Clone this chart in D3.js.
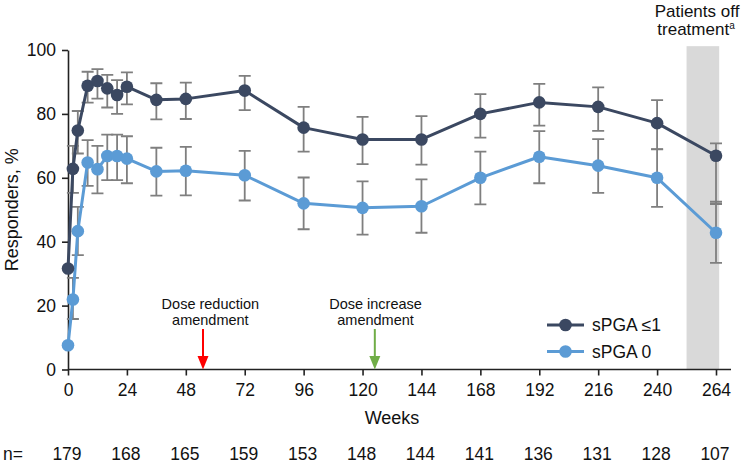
<!DOCTYPE html>
<html><head><meta charset="utf-8">
<script src="https://cdn.jsdelivr.net/npm/d3@7/dist/d3.min.js"></script>
<style>body{margin:0;background:#fff}svg{display:block;font-family:"Liberation Sans",Arial,sans-serif}</style>
</head><body><svg id="c" width="745" height="466"></svg>
<script>
const weeks = [0,2,4,8,12,16,20,24,36,48,72,96,120,144,168,192,216,240,264];
const spga1 = [31.6,62.8,74.8,88.8,90.3,88,85.9,88.5,84.4,84.7,87.3,75.7,72,72,80,83.6,82.2,77.1,66.9];
const spga1Lo = [null,55.3,67.6,83.5,84.8,82,80,83,78.3,78.4,81.2,68.2,64.3,64.1,72.6,76.3,74.7,69,51.8];
const spga1Hi = [null,70,80.9,93.2,94,92.2,90.6,93,89.6,89.8,91.9,82.2,79.1,79.3,86.2,89.4,88.3,84.3,70.8];
const spga0 = [7.6,21.9,43.3,64.8,62.7,66.8,66.8,66,62,62.2,60.8,52,50.6,51.1,60,66.6,63.8,60,42.8];
const spga0Lo = [null,15.8,35.8,57.5,55.1,59.3,59.3,58.3,54.4,54.5,52.9,43.9,42.2,42.8,51.7,58.3,55.3,50.9,33.4];
const spga0Hi = [null,28.7,50.9,71.8,70,73.5,73.5,73,69.4,69.7,68.4,60.1,58.9,59.5,68.2,74.6,72.1,68.9,52.5];
const xTicks = [0,24,48,72,96,120,144,168,192,216,240,264];
const yTicks = [0,20,40,60,80,100];
const nAtRisk = [179,168,165,159,153,148,144,141,136,131,128,107];
const seriesNames = ["sPGA \u22641","sPGA 0"];
const offBand = [252,265.3];
const doseReductionWeek = 55, doseIncreaseWeek = 125;

const svg = d3.select("#c");
const x = d3.scaleLinear().domain([0,264]).range([68,716]);
const y = d3.scaleLinear().domain([0,100]).range([369.5,50]);
const dark = "#3b4861", light = "#5b9bd5", ebc = "#7f7f7f";

// off-treatment band
svg.append("rect").attr("x", x(offBand[0])).attr("width", x(offBand[1]) - x(offBand[0]))
  .attr("y", y(101.2)).attr("height", y(0) - y(101.2)).attr("fill", "#d9d9d9");

// axes
const xAxis = svg.append("g").attr("transform", `translate(0,${y(0)})`)
  .call(d3.axisBottom(x).tickValues(xTicks).tickSize(6).tickPadding(8).tickSizeOuter(0));
xAxis.select(".domain").attr("d", `M${x(0)},0H731`);
const yAxis = svg.append("g").attr("transform", `translate(${x(0)},0)`)
  .call(d3.axisLeft(y).tickValues(yTicks).tickSize(6).tickPadding(6).tickSizeOuter(0));
[xAxis, yAxis].forEach(g => {
  g.selectAll("text").attr("font-size", 17.5).attr("fill", "#111").attr("font-family", "Liberation Sans, Arial, sans-serif");
  g.selectAll("line,.domain").attr("stroke", "#222").attr("stroke-width", 1.6);
});

svg.append("text").attr("x", x(132)).attr("y", 424).attr("text-anchor", "middle")
  .attr("font-size", 18).attr("fill", "#111").text("Weeks");
svg.append("text").attr("transform", `translate(18,${y(50)}) rotate(-90)`).attr("text-anchor", "middle")
  .attr("font-size", 18).attr("fill", "#111").text("Responders, %");

// n row
svg.append("text").attr("x", 3).attr("y", 460).attr("font-size", 17.5).attr("fill", "#111").text("n=");
svg.append("g").selectAll("text").data(nAtRisk).join("text")
  .attr("x", (d,i) => x(xTicks[i]) - 1).attr("y", 460).attr("text-anchor", "middle")
  .attr("font-size", 17.5).attr("fill", "#111").text(d => d);

// annotations
function arrow(week, color, tx, lines) {
  const ax = x(week);
  svg.append("line").attr("x1", ax).attr("x2", ax).attr("y1", 329).attr("y2", 358)
    .attr("stroke", color).attr("stroke-width", 2);
  svg.append("path").attr("d", `M${ax-5.5},356L${ax+5.5},356L${ax},${y(0)}Z`).attr("fill", color);
  lines.forEach((t, i) => svg.append("text").attr("x", x(tx)).attr("y", 309 + i*16)
    .attr("text-anchor", "middle").attr("font-size", 14.5).attr("fill", "#111").text(t));
}
arrow(doseReductionWeek, "#ff0000", 58, ["Dose reduction", "amendment"]);
arrow(doseIncreaseWeek, "#70ad47", 125.3, ["Dose increase", "amendment"]);

const pt = svg.append("text").attr("x", 697).attr("y", 17).attr("text-anchor", "middle")
  .attr("font-size", 17).attr("fill", "#111");
pt.append("tspan").attr("x", 697).text("Patients off");
const t2 = svg.append("text").attr("x", 696).attr("y", 35).attr("text-anchor", "middle")
  .attr("font-size", 17).attr("fill", "#111");
t2.append("tspan").text("treatment");
t2.append("tspan").attr("font-size", 10).attr("dy", -6).text("a");

// error bars
function errBars(lo, hi) {
  const g = svg.append("g").attr("stroke", ebc).attr("stroke-width", 1.8).attr("fill", "none");
  weeks.forEach((w, i) => {
    if (lo[i] == null) return;
    const cx = x(w);
    g.append("path").attr("d",
      `M${cx},${y(lo[i])}V${y(hi[i])}M${cx-6},${y(hi[i])}H${cx+6}M${cx-6},${y(lo[i])}H${cx+6}`);
  });
}
errBars(spga0Lo, spga0Hi);
errBars(spga1Lo, spga1Hi);

function series(vals, color) {
  const line = d3.line().x((d,i) => x(weeks[i])).y(d => y(d));
  svg.append("path").datum(vals).attr("d", line).attr("fill", "none")
    .attr("stroke", color).attr("stroke-width", 3).attr("stroke-linejoin", "round");
  svg.append("g").selectAll("circle").data(vals).join("circle")
    .attr("cx", (d,i) => x(weeks[i])).attr("cy", d => y(d)).attr("r", 6.3).attr("fill", color);
}
series(spga0, light);
series(spga1, dark);

// legend
[[dark, seriesNames[0], 325], [light, seriesNames[1], 351.5]].forEach(([c, t, ly]) => {
  svg.append("line").attr("x1", 547).attr("x2", 584).attr("y1", ly).attr("y2", ly)
    .attr("stroke", c).attr("stroke-width", 3);
  svg.append("circle").attr("cx", 565.5).attr("cy", ly).attr("r", 6.3).attr("fill", c);
  svg.append("text").attr("x", 592).attr("y", ly + 6).attr("font-size", 17.5).attr("fill", "#111").text(t);
});
</script></body></html>
